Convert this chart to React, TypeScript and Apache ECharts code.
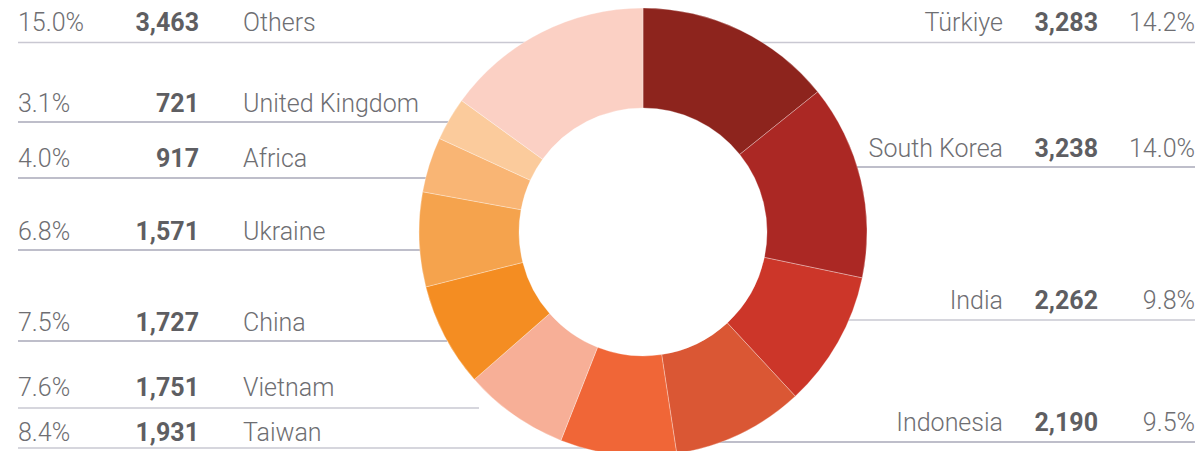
import React, { useEffect, useRef } from "react";
import * as echarts from "echarts";

// Data, clockwise from 12 o'clock
const names = ["Türkiye", "South Korea", "India", "Indonesia", "Taiwan", "Vietnam", "China", "Ukraine", "Africa", "United Kingdom", "Others"];
const values = [3283, 3238, 2262, 2190, 1931, 1751, 1727, 1571, 917, 721, 3463];
const colors = ["#8D241D", "#AB2824", "#CC3629", "#DA5734", "#F06637", "#F7AF97", "#F48D22", "#F5A34D", "#F9B574", "#FBCB9C", "#FBD0C4"];
const sides = ["right", "right", "right", "right", "left", "left", "left", "left", "left", "left", "left"];

// Layout (label rows): text centre y, rule y, rule start x, rule end x
const rowTextY = [22, 148, 300, 422, 432, 387, 322, 231, 158, 103, 22];
const rowLineY = [42.5, 167, 320, 442, 448, 408, 341, 250, 178, 122, 42.5];
const rowLineX0 = [740, 850, 840, 700, 18, 18, 18, 18, 18, 18, 18];
const rowLineX1 = [1195, 1195, 1195, 1195, 590, 479, 447, 422, 427, 448, 540];
const rowLineColor = ["#C9C8D2", "#A9A8B8", "#C9C8D2", "#A9A8B8", "#C9C8D2", "#C9C8D2", "#A9A8B8", "#A9A8B8", "#A9A8B8", "#A9A8B8", "#C9C8D2"];

const FONT = "Roboto, 'Open Sans', sans-serif";
const TEXT = "#6E6E72";
const BOLD = "#5E5E62";

export default function App() {
  const ref = useRef<HTMLDivElement>(null);
  useEffect(() => {
    document.body.style.margin = "0";
    if (!ref.current) return;
    const chart = echarts.init(ref.current, null, { renderer: "svg" });
    const total = values.reduce((a, b) => a + b, 0);
    const fmt = (v: number) => v.toLocaleString("en-US");
    const pct = (v: number) => ((v / total) * 100).toFixed(1) + "%";

    const graphics: any[] = [];
    names.forEach((n, i) => {
      graphics.push({
        type: "line",
        z: -10,
        shape: { x1: rowLineX0[i], y1: rowLineY[i], x2: rowLineX1[i], y2: rowLineY[i] },
        style: { stroke: rowLineColor[i], lineWidth: 1.5 },
      });
      const y = rowTextY[i];
      const base = { fontFamily: FONT, fontSize: 25, verticalAlign: "middle" };
      if (sides[i] === "left") {
        graphics.push({ type: "text", x: 18, y, style: { ...base, text: pct(values[i]), fill: TEXT, fontWeight: 300, align: "left" } });
        graphics.push({ type: "text", x: 199, y, style: { ...base, text: fmt(values[i]), fill: BOLD, fontWeight: "bold", align: "right" } });
        graphics.push({ type: "text", x: 243, y, style: { ...base, text: n, fill: TEXT, fontWeight: 300, align: "left" } });
      } else {
        graphics.push({ type: "text", x: 1003, y, style: { ...base, text: n, fill: TEXT, fontWeight: 300, align: "right" } });
        graphics.push({ type: "text", x: 1098, y, style: { ...base, text: fmt(values[i]), fill: BOLD, fontWeight: "bold", align: "right" } });
        graphics.push({ type: "text", x: 1195, y, style: { ...base, text: pct(values[i]), fill: TEXT, fontWeight: 300, align: "right" } });
      }
    });

    chart.setOption({
      animation: false,
      graphic: { elements: graphics },
      series: [
        {
          type: "pie",
          z: 5,
          center: [643, 232],
          radius: [124, 224],
          startAngle: 90,
          clockwise: true,
          label: { show: false },
          labelLine: { show: false },
          emphasis: { disabled: true },
          itemStyle: { borderColor: "rgba(255,255,255,0.6)", borderWidth: 0.5 },
          data: names.map((n, i) => ({ name: n, value: values[i], itemStyle: { color: colors[i] } })),
        },
      ],
    });
    return () => chart.dispose();
  }, []);
  return <div ref={ref} style={{ width: 1200, height: 451 }} />;
}
